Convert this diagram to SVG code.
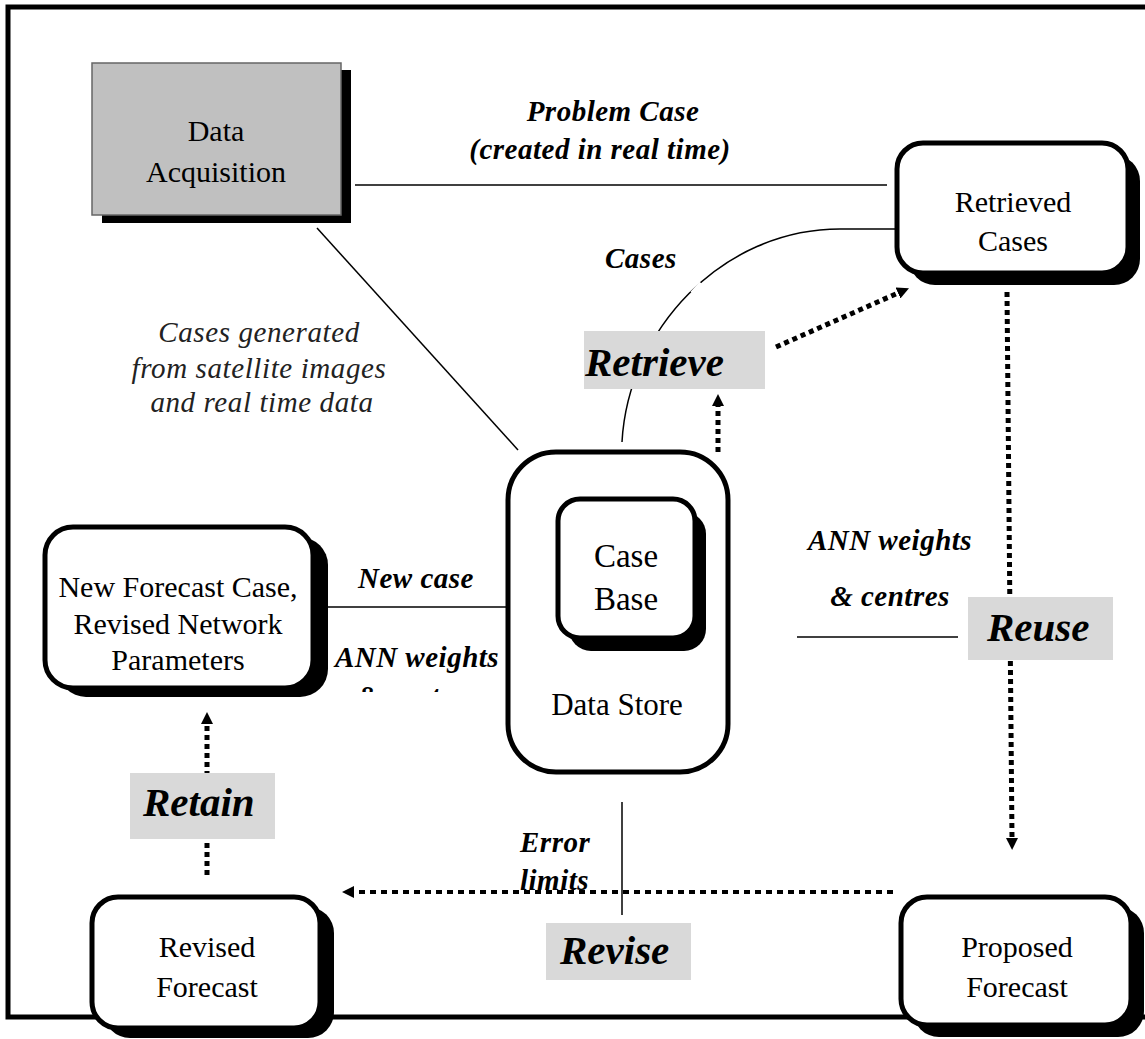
<svg xmlns="http://www.w3.org/2000/svg" width="1145" height="1039" viewBox="0 0 1145 1039">
<defs>
<style>
.node{font-family:"Liberation Serif","Times New Roman",serif;font-size:30px;fill:#000;text-anchor:middle}
.lbl{font-family:"Liberation Serif","Times New Roman",serif;font-size:29px;font-weight:bold;font-style:italic;fill:#000;letter-spacing:0.5px}
.big{font-family:"Liberation Serif","Times New Roman",serif;font-size:41px;font-weight:bold;font-style:italic;fill:#000}
.note{font-family:"Liberation Serif","Times New Roman",serif;font-size:29px;font-style:italic;fill:#222;letter-spacing:0.6px;text-anchor:middle}
.box{fill:#fff;stroke:#000;stroke-width:5}
.shadow{fill:#000}
.tag{fill:#d9d9d9}
.thin{stroke:#000;stroke-width:1.5;fill:none}
.dot{stroke:#000;stroke-width:5;stroke-dasharray:5 4;fill:none}
.dot2{stroke:#000;stroke-width:4;stroke-dasharray:6 5;fill:none}
</style>
<marker id="ah" viewBox="0 0 10 10" refX="0" refY="5" markerWidth="12" markerHeight="12" markerUnits="userSpaceOnUse" orient="auto">
<path d="M0,0 L10,5 L0,10 z" fill="#000"/>
</marker>
<clipPath id="clipL"><rect x="300" y="560" width="210" height="132"/></clipPath>
</defs>
<rect x="8" y="7" width="1160" height="1010" fill="#fff" stroke="#000" stroke-width="5"/>

<g id="connectors">
<line class="thin" x1="355" y1="185" x2="887" y2="185"/>
<line class="thin" x1="317" y1="228" x2="518" y2="450"/>
<path class="thin" d="M622,442 C628,330 722,229 840,229 L897,229"/>
<line x1="692" y1="293" x2="701" y2="283" stroke="#fff" stroke-width="4"/>
<line class="dot" x1="776" y1="347" x2="898" y2="293" marker-end="url(#ah)"/>
<line class="dot" x1="718" y1="452" x2="718" y2="406" marker-end="url(#ah)"/>
<line class="thin" x1="797" y1="637" x2="958" y2="637"/>
<line class="dot" x1="1007" y1="292" x2="1012" y2="838" marker-end="url(#ah)"/>
<line class="thin" x1="328" y1="607" x2="515" y2="607"/>
<line class="dot" x1="207" y1="875" x2="207" y2="724" marker-end="url(#ah)"/>
<line class="dot2" x1="893" y1="892" x2="354" y2="892" marker-end="url(#ah)"/>
<line class="thin" x1="622" y1="802" x2="622" y2="915"/>
</g>

<g id="labels">
<text class="lbl" x="613" y="121" text-anchor="middle">Problem Case</text>
<text class="lbl" x="600" y="159" text-anchor="middle">(created in real time)</text>
<text class="lbl" x="605" y="268">Cases</text>
<text class="note" x="259" y="342">Cases generated</text>
<text class="note" x="259" y="378">from satellite images</text>
<text class="note" x="262" y="412">and real time data</text>
<text class="lbl" x="890" y="550" text-anchor="middle">ANN weights</text>
<text class="lbl" x="890" y="606" text-anchor="middle">&amp; centres</text>
<text class="lbl" x="416" y="588" text-anchor="middle">New case</text>
<text class="lbl" x="417" y="667" text-anchor="middle">ANN weights</text>
<text class="lbl" x="417" y="706" text-anchor="middle" clip-path="url(#clipL)">&amp; centres</text>
<text class="lbl" x="520" y="852">Error</text>
<text class="lbl" x="520" y="890">limits</text>
</g>

<g id="retrieve">
<rect class="tag" x="584" y="331" width="181" height="58"/>
<text class="big" x="585" y="376">Retrieve</text>
</g>
<g id="reuse">
<rect class="tag" x="968" y="597" width="145" height="63"/>
<text class="big" x="987" y="641">Reuse</text>
</g>
<g id="retain">
<rect class="tag" x="130" y="773" width="145" height="66"/>
<text class="big" x="143" y="816">Retain</text>
</g>
<g id="revise">
<rect class="tag" x="546" y="923" width="145" height="57"/>
<text class="big" x="560" y="964">Revise</text>
</g>

<g id="data-acquisition">
<rect class="shadow" x="102" y="70" width="249" height="153"/>
<rect x="92" y="63" width="249" height="152" fill="#c0c0c0" stroke="#666" stroke-width="1.5"/>
<text class="node" x="216" y="141">Data</text>
<text class="node" x="216" y="182">Acquisition</text>
</g>

<g id="retrieved-cases">
<rect class="shadow" x="909" y="155" width="231" height="130" rx="26"/>
<rect class="box" x="897" y="143" width="231" height="130" rx="26"/>
<text class="node" x="1013" y="212">Retrieved</text>
<text class="node" x="1013" y="251">Cases</text>
</g>

<g id="data-store">
<rect class="box" x="508" y="452" width="220" height="320" rx="48"/>
<text class="node" x="617" y="715" style="font-size:31px">Data Store</text>
</g>

<g id="case-base">
<rect class="shadow" x="569" y="512" width="137" height="139" rx="22"/>
<rect class="box" x="558" y="499" width="137" height="139" rx="22" stroke-width="4"/>
<text class="node" x="626" y="567" style="font-size:33px">Case</text>
<text class="node" x="626" y="610" style="font-size:33px">Base</text>
</g>

<g id="new-forecast-case">
<rect class="shadow" x="58" y="537" width="270" height="160" rx="28"/>
<rect class="box" x="45" y="527" width="268" height="161" rx="28"/>
<text class="node" x="178" y="597">New Forecast Case,</text>
<text class="node" x="178" y="634">Revised Network</text>
<text class="node" x="178" y="670">Parameters</text>
</g>

<g id="revised-forecast">
<rect class="shadow" x="104" y="907" width="230" height="131" rx="26"/>
<rect class="box" x="92" y="897" width="228" height="131" rx="26"/>
<text class="node" x="207" y="957">Revised</text>
<text class="node" x="207" y="997">Forecast</text>
</g>

<g id="proposed-forecast">
<rect class="shadow" x="913" y="907" width="231" height="130" rx="26"/>
<rect class="box" x="901" y="897" width="230" height="128" rx="26"/>
<text class="node" x="1017" y="957">Proposed</text>
<text class="node" x="1017" y="997">Forecast</text>
</g>
</svg>
